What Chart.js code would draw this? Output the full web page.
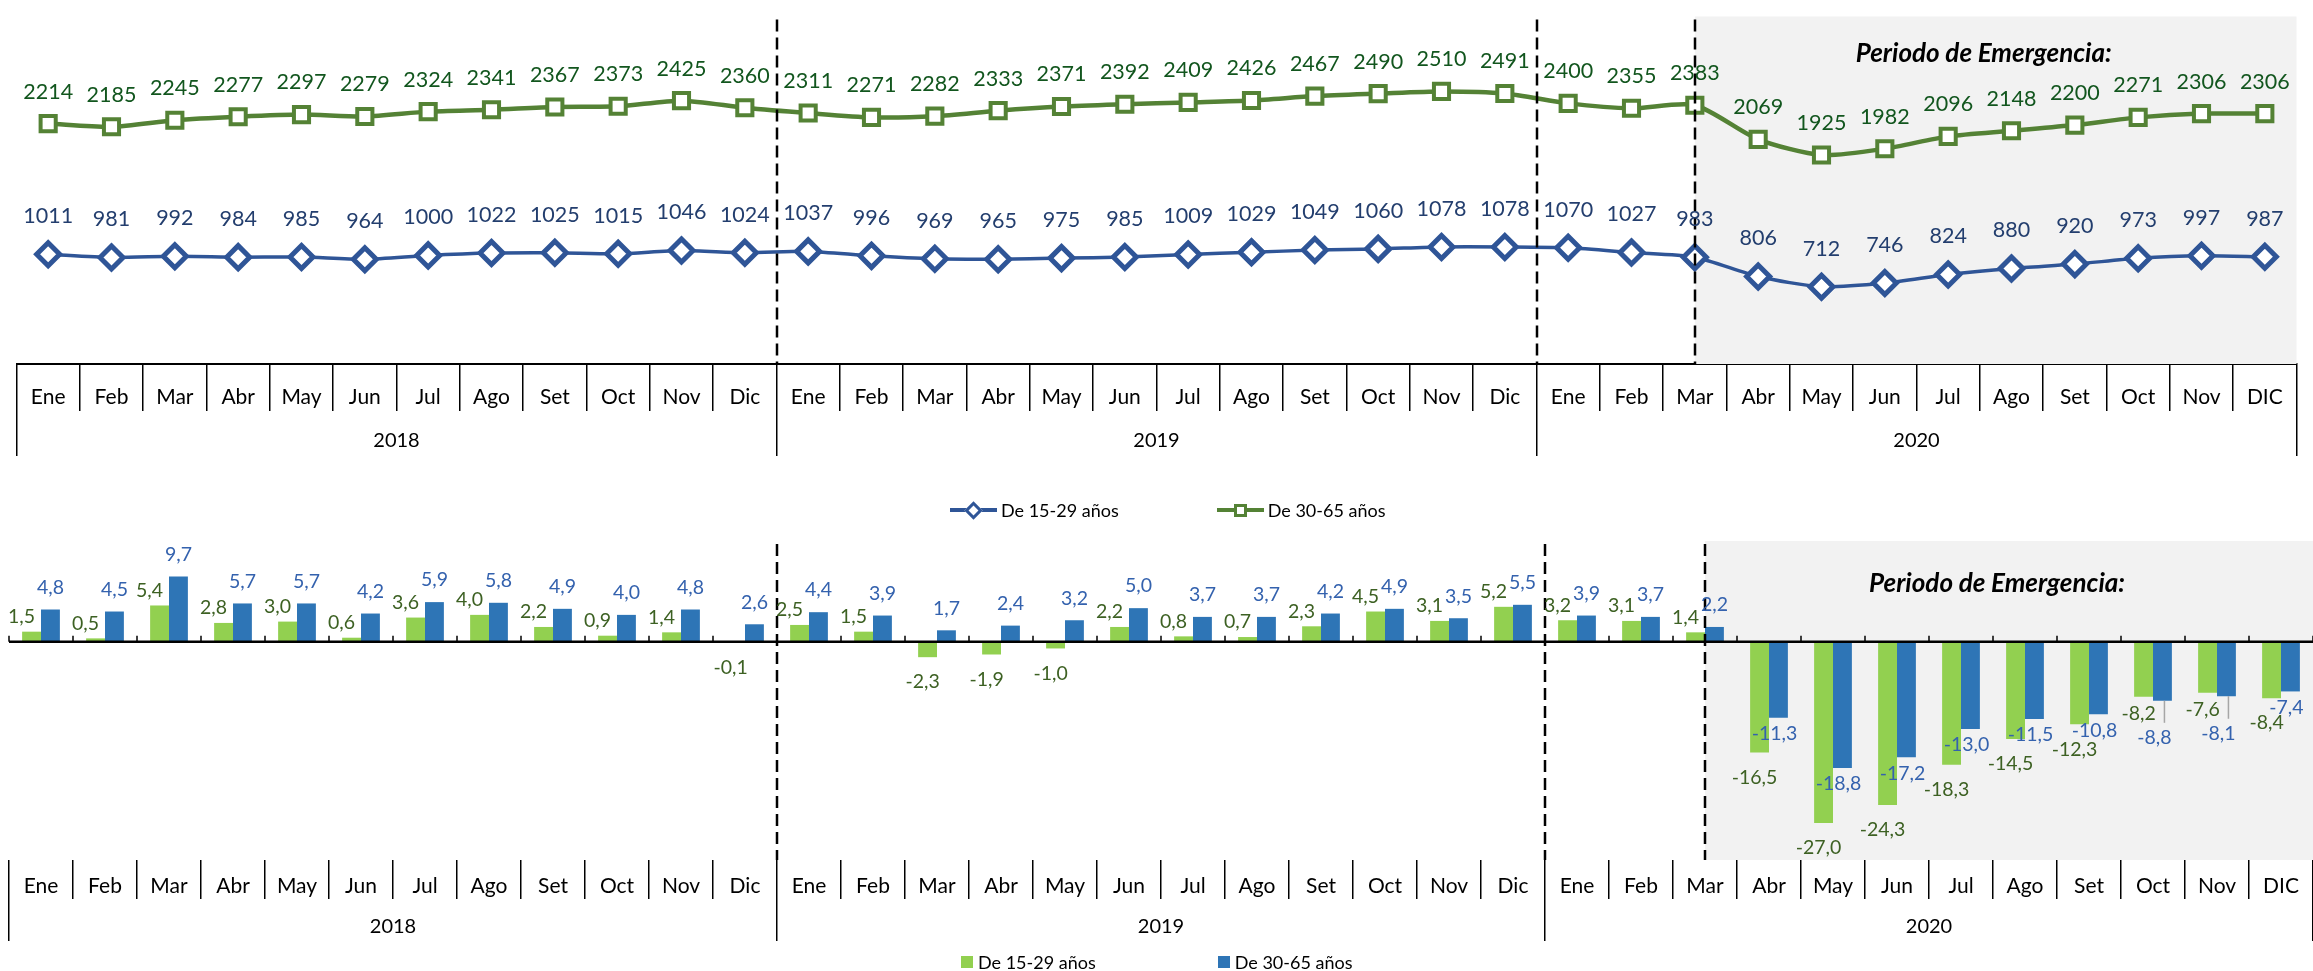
<!DOCTYPE html>
<html lang="es">
<head>
<meta charset="utf-8">
<title>Ocupados por grupo de edad</title>
<script src="https://cdn.jsdelivr.net/npm/chart.js@4.4.1/dist/chart.umd.min.js"></script>
<style>
  html, body { margin: 0; padding: 0; background: #fff; }
  body { width: 2313px; height: 971px; position: relative; overflow: hidden; font-family: Lato, 'Open Sans', sans-serif; }
  .chart-box { position: absolute; left: 0; width: 2313px; }
  #top-box { top: 0; height: 470px; }
  #bottom-box { top: 520px; height: 451px; }

  .legend { position: absolute; display: flex; align-items: center; height: 22px; font-size: 18px; color: #000; white-space: nowrap; }
  .mk-line { position: relative; width: 47px; height: 22px; margin-right: 4px; }
  .mk-line::before { content: ''; position: absolute; left: 0; right: 0; top: 9px; height: 4px; background: currentColor; }
  .mk-line i { position: absolute; box-sizing: border-box; width: 13px; height: 13px; left: 17px; top: 4.5px; background: #fff; border: 3px solid currentColor; }
  .mk-line.blue { color: #2F5597; }
  .mk-line.blue i { transform: rotate(45deg); }
  .mk-line.green { color: #548235; }
  .mk-box { width: 12px; height: 12px; margin-right: 5px; }
</style>
</head>
<body>

<div class="chart-box" id="top-box"><canvas id="chart-ocupados"></canvas></div>
<div class="chart-box" id="bottom-box"><canvas id="chart-variacion"></canvas></div>

<div class="legend" style="left: 950px; top: 499px;">
  <span class="mk-line blue"><i></i></span><span>De 15-29 años</span>
  <span class="mk-line green" style="margin-left: 98px;"><i></i></span><span>De 30-65 años</span>
</div>

<div class="legend" style="left: 961px; top: 951px;">
  <span class="mk-box" style="background: #92D050;"></span><span>De 15-29 años</span>
  <span class="mk-box" style="background: #2E75B6; margin-left: 122px;"></span><span>De 30-65 años</span>
</div>

<script>
/* ===== DATOS ===== */

const meses2018 = ['Ene', 'Feb', 'Mar', 'Abr', 'May', 'Jun', 'Jul', 'Ago', 'Set', 'Oct', 'Nov', 'Dic'];
const meses2019 = ['Ene', 'Feb', 'Mar', 'Abr', 'May', 'Jun', 'Jul', 'Ago', 'Set', 'Oct', 'Nov', 'Dic'];
const meses2020 = ['Ene', 'Feb', 'Mar', 'Abr', 'May', 'Jun', 'Jul', 'Ago', 'Set', 'Oct', 'Nov', 'DIC'];
const anios = ['2018', '2019', '2020'];
const meses = [...meses2018, ...meses2019, ...meses2020];

// Ocupados (miles)
const ocupados1529 = [
  1011, 981, 992, 984, 985, 964, 1000, 1022, 1025, 1015, 1046, 1024,
  1037, 996, 969, 965, 975, 985, 1009, 1029, 1049, 1060, 1078, 1078,
  1070, 1027, 983, 806, 712, 746, 824, 880, 920, 973, 997, 987
];
const ocupados3065 = [
  2214, 2185, 2245, 2277, 2297, 2279, 2324, 2341, 2367, 2373, 2425, 2360,
  2311, 2271, 2282, 2333, 2371, 2392, 2409, 2426, 2467, 2490, 2510, 2491,
  2400, 2355, 2383, 2069, 1925, 1982, 2096, 2148, 2200, 2271, 2306, 2306
];

// Variacion porcentual
const var1529 = [
  1.5, 0.5, 5.4, 2.8, 3.0, 0.6, 3.6, 4.0, 2.2, 0.9, 1.4, -0.1,
  2.5, 1.5, -2.3, -1.9, -1.0, 2.2, 0.8, 0.7, 2.3, 4.5, 3.1, 5.2,
  3.2, 3.1, 1.4, -16.5, -27.0, -24.3, -18.3, -14.5, -12.3, -8.2, -7.6, -8.4
];
const var3065 = [
  4.8, 4.5, 9.7, 5.7, 5.7, 4.2, 5.9, 5.8, 4.9, 4.0, 4.8, 2.6,
  4.4, 3.9, 1.7, 2.4, 3.2, 5.0, 3.7, 3.7, 4.2, 4.9, 3.5, 5.5,
  3.9, 3.7, 2.2, -11.3, -18.8, -17.2, -13.0, -11.5, -10.8, -8.8, -8.1, -7.4
];

const inicioEmergencia = 26;          // Mar 2020
const cortes = [11.5, 23.5, inicioEmergencia];
const tituloEmergencia = 'Periodo de Emergencia:';

/* ===== PLUGINS ===== */

const fmt = v => v.toFixed(1).replace('.', ',');

// sombreado, titulo, linea cero y lineas punteadas
const decor = {
  id: 'decor',
  beforeDatasetsDraw(chart, args, opts) {
    const { ctx, chartArea: a, scales: { x } } = chart;
    const x0 = x.getPixelForValue(opts.shadeFrom);
    ctx.save();
    ctx.fillStyle = '#F2F2F2';
    ctx.fillRect(x0, a.top, a.right - x0, a.bottom - a.top);
    ctx.fillStyle = '#000';
    ctx.font = 'italic bold 26px Lato';
    ctx.textAlign = 'center';
    ctx.textBaseline = 'alphabetic';
    ctx.fillText(opts.title, (x0 + a.right) / 2 - 12, a.top + opts.titleBaseline);
    ctx.restore();
  },
  afterDatasetsDraw(chart, args, opts) {
    const { ctx, chartArea: a, scales: { x, y } } = chart;
    ctx.save();
    if (opts.zeroLine) {
      const y0 = y.getPixelForValue(0);
      ctx.strokeStyle = '#000';
      ctx.lineWidth = 2.5;
      ctx.beginPath();
      ctx.moveTo(a.left, y0);
      ctx.lineTo(a.right, y0);
      ctx.stroke();
      ctx.lineWidth = 1.5;
      ctx.beginPath();
      for (let i = 0; i <= chart.data.labels.length; i++) {
        const px = x.getPixelForValue(i - 0.5);
        ctx.moveTo(px, y0);
        ctx.lineTo(px, y0 - 6);
      }
      ctx.stroke();
    }
    ctx.strokeStyle = '#000';
    ctx.lineWidth = 2.5;
    ctx.setLineDash([12, 6]);
    opts.breaks.forEach(v => {
      const px = Math.round(x.getPixelForValue(v));
      ctx.beginPath();
      ctx.moveTo(px, a.top + 3);
      ctx.lineTo(px, a.bottom);
      ctx.stroke();
    });
    ctx.restore();
  }
};

// etiquetas de los puntos (grafico superior)
const pointLabels = {
  id: 'pointLabels',
  afterDatasetsDraw(chart) {
    const { ctx } = chart;
    ctx.save();
    ctx.font = '21.5px Lato';
    ctx.textAlign = 'center';
    ctx.textBaseline = 'middle';
    chart.data.datasets.forEach((ds, di) => {
      ctx.fillStyle = ds.labelColor;
      chart.getDatasetMeta(di).data.forEach((pt, i) => {
        ctx.fillText(String(ds.data[i]), pt.x, pt.y - ds.labelOffset);
      });
    });
    ctx.restore();
  }
};

// etiquetas de las barras (grafico inferior)
const barLabels = {
  id: 'barLabels',
  afterDatasetsDraw(chart) {
    const { ctx } = chart;
    const g = chart.getDatasetMeta(0).data;
    const b = chart.getDatasetMeta(1).data;
    ctx.save();
    ctx.font = '19.5px Lato';
    ctx.textAlign = 'center';
    ctx.textBaseline = 'middle';
    var1529.forEach((gv, i) => {
      const bv = var3065[i];
      const gb = g[i], bb = b[i];
      let gx = gb.x + (gv >= 0 ? -10 : -5);
      let gy = gv >= 0 ? gb.y - 15 : gb.y + 25;
      let bx = bb.x + (bv >= 0 ? 0 : -4);
      let by = bv >= 0 ? bb.y - 22 : bb.y + 16;
      let leader = false;
      // cuando las dos barras negativas casi coinciden, se baja la azul
      if (gv < 0 && bv < gv && by - gy < 20) {
        gy = gb.y + 17;
        by = gy + 24;
        bx = bb.x - 8;
        leader = true;
      }
      if (leader) {
        ctx.strokeStyle = '#A6A6A6';
        ctx.lineWidth = 1.5;
        ctx.beginPath();
        ctx.moveTo(bb.x + 2, bb.y);
        ctx.lineTo(bb.x + 2, by - 15);
        ctx.stroke();
      }
      ctx.fillStyle = '#3D6123';
      ctx.fillText(fmt(gv), gx, gy);
      ctx.fillStyle = '#3462AE';
      ctx.fillText(fmt(bv), bx, by);
    });
    ctx.restore();
  }
};

/* ===== EJES ===== */

function monthAxis(tickLength, padding, height) {
  return {
    type: 'category',
    offset: true,
    grid: { offset: true, drawOnChartArea: false, tickLength, color: '#000', lineWidth: 1.5 },
    ticks: { padding, color: '#000', font: { family: 'Lato', size: 21 }, maxRotation: 0, autoSkip: false },
    afterFit: s => { s.height = height; }
  };
}

function yearAxis(tickLength, padding, height) {
  return {
    type: 'category',
    labels: anios,
    offset: true,
    position: 'bottom',
    grid: { offset: true, drawOnChartArea: false, tickLength, color: '#000', lineWidth: 1.5 },
    border: { display: false },
    ticks: { padding, color: '#000', font: { family: 'Lato', size: 20 }, maxRotation: 0 },
    afterFit: s => { s.height = height; }
  };
}

/* ===== GRAFICO SUPERIOR ===== */

const topX = monthAxis(47, -26, 47);
topX.border = { display: true, color: '#000', width: 2 };

new Chart(document.getElementById('chart-ocupados'), {
  type: 'line',
  data: {
    labels: meses,
    datasets: [
      {
        label: 'De 15-29 años',
        data: ocupados1529,
        borderColor: '#2F5597',
        borderWidth: 3.5,
        pointStyle: 'rectRot',
        pointRadius: 11.5,
        pointBorderWidth: 5,
        pointBorderColor: '#2F5597',
        pointBackgroundColor: '#fff',
        tension: 0.25,
        labelColor: '#233E6E',
        labelOffset: 38
      },
      {
        label: 'De 30-65 años',
        data: ocupados3065,
        borderColor: '#548235',
        borderWidth: 4.5,
        pointStyle: 'rect',
        pointRadius: 10.7,
        pointBorderWidth: 4,
        pointBorderColor: '#548235',
        pointBackgroundColor: '#fff',
        tension: 0.25,
        labelColor: '#12561E',
        labelOffset: 32
      }
    ]
  },
  options: {
    responsive: true,
    maintainAspectRatio: false,
    animation: false,
    layout: { padding: { left: 9, right: 0, top: 10, bottom: 14 } },
    plugins: {
      legend: { display: false },
      tooltip: { enabled: false },
      decor: { shadeFrom: inicioEmergencia, breaks: cortes, title: tituloEmergencia, titleBaseline: 45, zeroLine: false }
    },
    scales: {
      x: topX,
      x2: yearAxis(45, -27, 45),
      y: { display: false, min: 0, max: 3200 }
    }
  },
  plugins: [decor, pointLabels]
});

/* ===== GRAFICO INFERIOR ===== */

const bottomX = monthAxis(39, -25, 39);
bottomX.border = { display: false };

new Chart(document.getElementById('chart-variacion'), {
  type: 'bar',
  data: {
    labels: meses,
    datasets: [
      { label: 'De 15-29 años', data: var1529, backgroundColor: '#92D050' },
      { label: 'De 30-65 años', data: var3065, backgroundColor: '#2E75B6' }
    ]
  },
  options: {
    responsive: true,
    maintainAspectRatio: false,
    animation: false,
    barPercentage: 1,
    categoryPercentage: 0.59,
    layout: { padding: { left: 9, right: 0, top: 21, bottom: 30 } },
    plugins: {
      legend: { display: false },
      tooltip: { enabled: false },
      decor: { shadeFrom: inicioEmergencia, breaks: cortes, title: tituloEmergencia, titleBaseline: 51, zeroLine: true }
    },
    scales: {
      x: bottomX,
      x2: yearAxis(42, -26, 42),
      y: { display: false, min: -32.5, max: 15 }
    }
  },
  plugins: [decor, barLabels]
});
</script>
</body>
</html>
